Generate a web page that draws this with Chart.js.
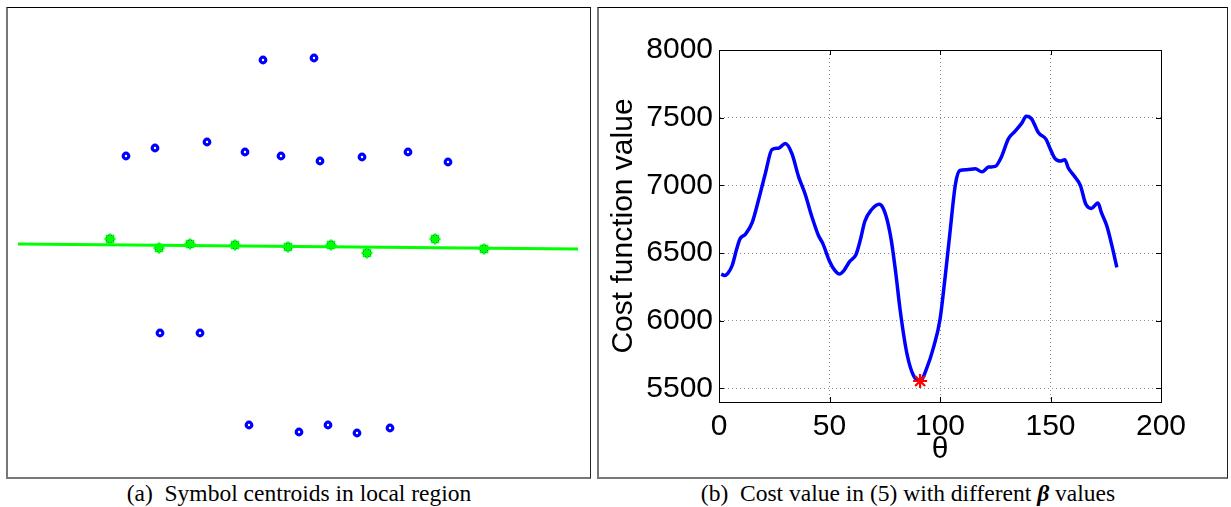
<!DOCTYPE html>
<html>
<head>
<meta charset="utf-8">
<script src="https://cdn.jsdelivr.net/npm/chart.js@4.4.0/dist/chart.umd.min.js"></script>
<style>
  body { margin: 0; background: #fff; width: 1231px; height: 507px; position: relative; overflow: hidden; }
  .panel { position: absolute; top: 7px; height: 469px; border-top: 1px solid #000; border-right: 1px solid #222;
           border-bottom: 2px solid #777; border-left: 2px solid #777; }
  #panelA { left: 6px; width: 582px; }
  #panelB { left: 597px; width: 628px; }
  .panel canvas { position: absolute; left: 0; top: 0; }
  .caption { position: absolute; top: 481px; font-family: "Liberation Serif", serif; font-size: 23.5px;
             line-height: 24px; text-align: center; white-space: pre; color: #000; }
</style>
</head>
<body>
<div class="panel" id="panelA"><canvas id="centroidChart" width="582" height="469"></canvas></div>
<div class="panel" id="panelB"><canvas id="costChart" width="628" height="469"></canvas></div>
<div class="caption" style="left:7px; width:584px;">(a)  Symbol centroids in local region</div>
<div class="caption" style="left:598px; width:620px;">(b)  Cost value in (5) with different <b><i>β</i></b> values</div>

<script>
// (a) symbol centroids, image coords (column, row) of the local region
const centroidCols = [255, 306, 118, 147, 199, 237, 273, 312, 354, 400, 440,
                      102, 151, 182, 227, 280, 323, 359, 427, 476,
                      152, 192, 241, 291, 320, 349, 382];
const centroidRows = [52, 50, 148, 140, 134, 144, 148, 153, 149, 144, 154,
                      231, 240, 236, 237, 239, 237, 245, 231, 241,
                      325, 325, 417, 424, 417, 425, 420];
// centroids picked for the text line (indices into the arrays above)
const lineMembers = [11, 12, 13, 14, 15, 16, 17, 18, 19];
// fitted baseline end points
const fitCols = [10, 570];
const fitRows = [236, 241];

// (b) cost function vs theta
const thetaVals = [1, 2.5, 4, 6, 8, 9.5, 12, 15, 18, 21, 24, 27, 30, 33, 36, 39, 42, 45, 47, 50,
                   52.5, 54.5, 56.5, 59, 62, 64, 66, 69, 72.5, 74, 76, 78, 80, 82, 85, 88, 91, 94, 97,
                   100, 102.3, 104.5, 107, 109, 112, 116, 119, 122, 125, 127.5, 131, 134, 137, 139, 141.5, 144.5, 148, 150, 152,
                   154.5, 156.5, 158, 160.5, 163.5, 166, 168.5, 171.5, 173, 175.5, 178, 180];
const costVals = [6345, 6335, 6350, 6410, 6530, 6605, 6640, 6725, 6900, 7090, 7265, 7275, 7310, 7235, 7065, 6935, 6770, 6630, 6570, 6440,
                  6370, 6345, 6370, 6435, 6490, 6600, 6735, 6820, 6860, 6840, 6750, 6590, 6350, 6075, 5760, 5595, 5555, 5650, 5800,
                  6010, 6320, 6650, 7010, 7110, 7115, 7122, 7100, 7135, 7140, 7200, 7345, 7400, 7460, 7510, 7490, 7390, 7340, 7265, 7200,
                  7180, 7190, 7130, 7075, 7000, 6860, 6830, 6870, 6800, 6700, 6540, 6395];
const minTheta = 91;
const minCost = 5555;
const xTicks = [0, 50, 100, 150, 200];
const yTicks = [5500, 6000, 6500, 7000, 7500, 8000];

Chart.defaults.font.family = 'Liberation Sans';
Chart.defaults.color = '#000';

// chart (a)
const allPts = centroidCols.map((c, i) => ({ x: c, y: centroidRows[i] }));
const linePts = lineMembers.map(i => allPts[i]);
const fitPts = fitCols.map((c, i) => ({ x: c, y: fitRows[i] }));

const ctx1 = document.getElementById('centroidChart').getContext('2d');
new Chart(ctx1, {
    type: 'scatter',
    data: {
        datasets: [{
            data: linePts,
            pointStyle: 'star',
            pointRadius: 5.5,
            borderColor: '#00ff00',
            borderWidth: 2.5,
            backgroundColor: '#00ff00'
        }, {
            type: 'line',
            data: fitPts,
            borderColor: '#00ff00',
            borderWidth: 3,
            pointRadius: 0,
            fill: false
        }, {
            data: allPts,
            pointStyle: 'circle',
            pointRadius: 2.8,
            borderWidth: 3.2,
            borderColor: '#0000ff',
            backgroundColor: '#ffffff'
        }]
    },
    options: {
        responsive: false,
        animation: false,
        layout: { padding: 0, autoPadding: false },
        plugins: { legend: { display: false }, tooltip: { enabled: false } },
        scales: {
            x: { display: false, type: 'linear', min: 0, max: 582 },
            y: { display: false, type: 'linear', min: 0, max: 469, reverse: true }
        }
    }
});

// chart (b)
const bigFont = { family: 'Liberation Sans', size: 30 };

const boxPlugin = {
    id: 'box',
    afterDraw(chart) {
        const { ctx, chartArea: a, scales } = chart;
        ctx.save();
        ctx.strokeStyle = '#000';
        ctx.lineWidth = 1;
        ctx.beginPath();
        scales.x.ticks.forEach(t => {
            const px = Math.round(scales.x.getPixelForValue(t.value)) + 0.5;
            ctx.moveTo(px, a.bottom); ctx.lineTo(px, a.bottom - 5);
            ctx.moveTo(px, a.top); ctx.lineTo(px, a.top + 5);
        });
        scales.y.ticks.forEach(t => {
            const py = Math.round(scales.y.getPixelForValue(t.value)) + 0.5;
            ctx.moveTo(a.left, py); ctx.lineTo(a.left + 5, py);
            ctx.moveTo(a.right, py); ctx.lineTo(a.right - 5, py);
        });
        ctx.stroke();
        ctx.strokeRect(Math.round(a.left) + 0.5, Math.round(a.top) + 0.5,
                       Math.round(a.right - a.left), Math.round(a.bottom - a.top));
        ctx.restore();
    }
};

const ctx2 = document.getElementById('costChart').getContext('2d');
new Chart(ctx2, {
    type: 'line',
    data: {
        datasets: [{
            type: 'scatter',
            data: [{ x: minTheta, y: minCost }],
            pointStyle: 'star',
            pointRadius: 7,
            borderColor: '#ff0000',
            borderWidth: 2.2
        }, {
            data: thetaVals.map((t, i) => ({ x: t, y: costVals[i] })),
            borderColor: '#0000ff',
            borderWidth: 3.5,
            pointRadius: 0,
            cubicInterpolationMode: 'monotone',
            fill: false
        }]
    },
    options: {
        responsive: false,
        animation: false,
        layout: { padding: { top: 42, right: 66, left: 0, bottom: 0 } },
        plugins: { legend: { display: false }, tooltip: { enabled: false } },
        scales: {
            x: {
                type: 'linear', min: 0, max: 200,
                afterBuildTicks: s => { s.ticks = xTicks.map(v => ({ value: v })); },
                afterFit: s => { s.height = 75; },
                ticks: { font: bigFont, padding: 7, maxRotation: 0, callback: v => String(v) },
                grid: { color: '#8c8c8c', lineWidth: 1, drawTicks: false },
                border: { color: '#000', dash: [1, 3] },
                title: { display: true, text: 'θ', font: bigFont, padding: { top: 0, bottom: 9 } }
            },
            y: {
                type: 'linear', min: 5400, max: 8000,
                afterBuildTicks: s => { s.ticks = yTicks.map(v => ({ value: v })); },
                afterFit: s => { s.width = 120; },
                ticks: { font: bigFont, padding: 6, callback: v => String(v) },
                grid: { color: '#8c8c8c', lineWidth: 1, drawTicks: false },
                border: { color: '#000', dash: [1, 3] },
                title: { display: true, text: 'Cost function value', font: bigFont, padding: { top: 7, bottom: 0 } }
            }
        }
    },
    plugins: [boxPlugin]
});
</script>
</body>
</html>
